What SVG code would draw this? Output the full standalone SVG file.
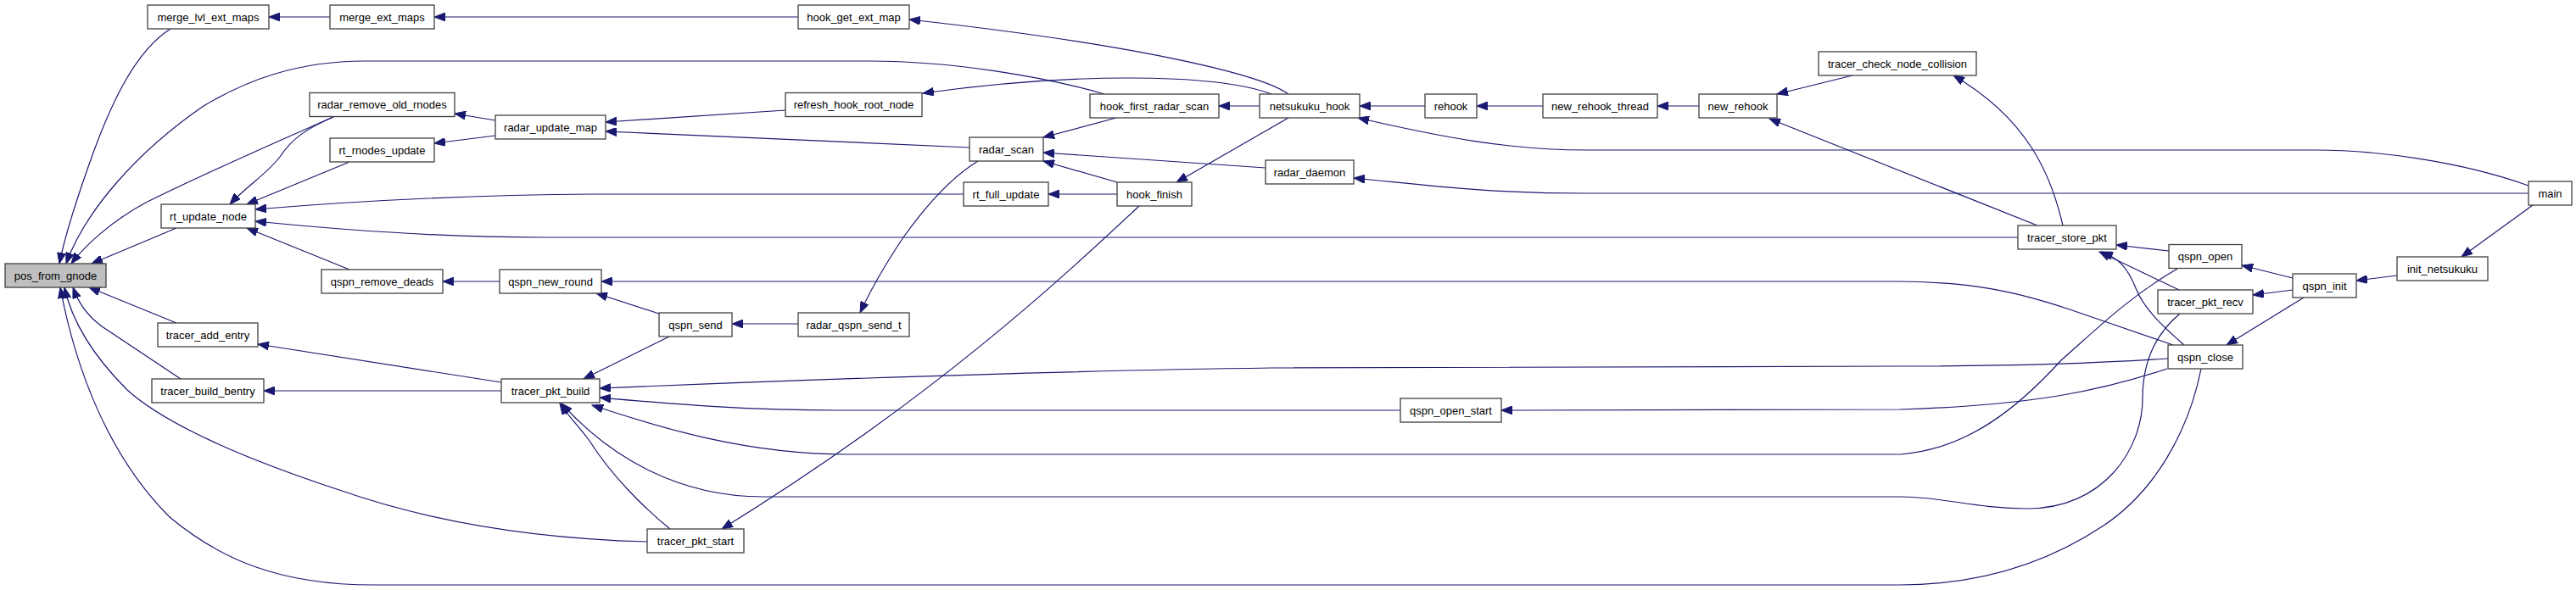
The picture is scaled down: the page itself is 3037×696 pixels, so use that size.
<svg xmlns="http://www.w3.org/2000/svg" width="3037" height="696" viewBox="0 0 3037 696">
<style>
.n rect{fill:#ffffff;stroke:#404040;stroke-width:1.3}
.n text{font-family:"Liberation Sans",Arial,Helvetica,sans-serif;font-size:13px;fill:#000;text-anchor:middle}
#n_pos_from_gnode rect{fill:#bfbfbf}
#edges path{fill:none;stroke:#191970;stroke-width:1.2;marker-end:url(#ah)}
</style>
<defs>
<marker id="ah" markerUnits="userSpaceOnUse" viewBox="0 0 14 10" markerWidth="14" markerHeight="10" refX="13" refY="5" orient="auto">
<path d="M0,0 L13,5 L0,10 z" fill="#191970" stroke="#191970" stroke-width="1"/>
</marker>
</defs>
<rect width="3037" height="696" fill="#ffffff"/>
<g id="edges">
<path d="M389,20 L317,20"/>
<path d="M941,20 L512,20"/>
<path d="M201,34 C160,60 132,120 110,180 C92,230 76,280 70,311"/>
<path d="M1302,111 C1230,90 1120,72 1026,72 L430,72 C350,72 290,95 240,125 C160,180 100,250 78,311"/>
<path d="M393,138 C320,170 230,210 170,240 C130,262 100,290 84,311"/>
<path d="M393,138 C365,150 345,162 330,185 C315,205 290,220 271,241"/>
<path d="M412,191 L291,241"/>
<path d="M208,269 L108,311"/>
<path d="M1136,229 L700,229 C560,230 420,237 301,247"/>
<path d="M2379,280 L640,280 C520,280 410,272 301,261"/>
<path d="M412,318 L291,269"/>
<path d="M589,332 L522,332"/>
<path d="M584,142 L536,134"/>
<path d="M584,160 L512,169"/>
<path d="M926,130 L714,144"/>
<path d="M1143,174 L714,155"/>
<path d="M1519,111 C1490,90 1360,55 1072,23"/>
<path d="M1499,111 C1470,100 1420,92 1330,92 C1250,92 1160,100 1088,110"/>
<path d="M1485,125 L1437,125"/>
<path d="M1316,139 L1230,162"/>
<path d="M1519,139 L1387,215"/>
<path d="M1317,215 L1230,190"/>
<path d="M1317,229 L1236,229"/>
<path d="M1492,198 L1230,180"/>
<path d="M1680,125 L1603,125"/>
<path d="M1819,125 L1741,125"/>
<path d="M2003,125 L1954,125"/>
<path d="M2184,89 L2095,111"/>
<path d="M2402,266 L2086,140"/>
<path d="M2432,266 C2418,205 2390,140 2303,89"/>
<path d="M2981,219 C2900,190 2800,177 2730,177 L1870,177 C1780,177 1700,162 1601,139"/>
<path d="M2981,228 L1870,228 C1750,228 1680,218 1596,210"/>
<path d="M2986,242 L2902,303"/>
<path d="M2826,325 L2778,331"/>
<path d="M2703,328 L2643,313"/>
<path d="M2703,342 L2656,348"/>
<path d="M2716,351 L2625,407"/>
<path d="M2557,296 L2495,289"/>
<path d="M2569,342 L2475,297"/>
<path d="M2575,407 C2550,385 2528,365 2518,340 C2508,315 2498,305 2478,297"/>
<path d="M2562,407 L2440,365 C2380,345 2330,333 2240,332 L709,332"/>
<path d="M777,370 L703,346"/>
<path d="M941,382 L863,382"/>
<path d="M1153,190 C1120,210 1090,245 1065,280 C1045,310 1025,345 1014,369"/>
<path d="M789,397 L688,447"/>
<path d="M591,451 L304,406"/>
<path d="M591,461 L311,461"/>
<path d="M208,381 L105,339"/>
<path d="M213,447 C180,425 150,405 120,385 C100,370 92,355 86,339"/>
<path d="M763,639 C650,636 520,620 400,578 C300,545 200,505 150,460 C110,420 85,380 76,339"/>
<path d="M2595,435 C2580,510 2540,580 2480,620 C2420,660 2340,690 2240,690 L440,690 C330,690 260,660 200,610 C130,540 90,440 71,339"/>
<path d="M2556,423 C2450,430 2350,432 2240,432 L1500,434 C1200,438 900,450 707,458"/>
<path d="M2555,435 C2480,460 2400,478 2240,483 L1770,484"/>
<path d="M1651,484 L990,484 C880,484 800,477 707,469"/>
<path d="M2567,317 C2510,350 2470,390 2430,425 C2380,480 2320,530 2240,536 L1000,536 C880,536 780,505 698,478"/>
<path d="M2570,370 C2540,395 2526,430 2526,470 C2526,530 2480,600 2390,600 C2330,600 2290,586 2240,586 L900,586 C800,586 720,540 662,476"/>
<path d="M790,624 C760,600 720,560 695,520 C680,500 668,488 660,476"/>
<path d="M1343,243 C1250,330 1100,470 851,624"/>
</g>
<g id="n_pos_from_gnode" class="n"><rect x="6" y="311" width="119" height="28"/><text x="65.5" y="329.5">pos_from_gnode</text></g>
<g id="n_merge_lvl_ext_maps" class="n"><rect x="174" y="6" width="143" height="28"/><text x="245.5" y="24.5">merge_lvl_ext_maps</text></g>
<g id="n_merge_ext_maps" class="n"><rect x="389" y="6" width="123" height="28"/><text x="450.5" y="24.5">merge_ext_maps</text></g>
<g id="n_hook_get_ext_map" class="n"><rect x="941" y="6" width="131" height="28"/><text x="1006.5" y="24.5">hook_get_ext_map</text></g>
<g id="n_radar_remove_old_rnodes" class="n"><rect x="365" y="109.5" width="171" height="28"/><text x="450.5" y="128">radar_remove_old_rnodes</text></g>
<g id="n_radar_update_map" class="n"><rect x="584" y="136" width="130" height="28"/><text x="649" y="154.5">radar_update_map</text></g>
<g id="n_rt_rnodes_update" class="n"><rect x="389" y="163" width="123" height="28"/><text x="450.5" y="181.5">rt_rnodes_update</text></g>
<g id="n_rt_update_node" class="n"><rect x="190" y="241" width="111" height="28"/><text x="245.5" y="259.5">rt_update_node</text></g>
<g id="n_qspn_remove_deads" class="n"><rect x="379" y="318" width="143" height="28"/><text x="450.5" y="336.5">qspn_remove_deads</text></g>
<g id="n_qspn_new_round" class="n"><rect x="589" y="318" width="120" height="28"/><text x="649" y="336.5">qspn_new_round</text></g>
<g id="n_tracer_add_entry" class="n"><rect x="186" y="381" width="118" height="28"/><text x="245" y="399.5">tracer_add_entry</text></g>
<g id="n_tracer_build_bentry" class="n"><rect x="179" y="447" width="132" height="28"/><text x="245" y="465.5">tracer_build_bentry</text></g>
<g id="n_tracer_pkt_build" class="n"><rect x="591" y="447" width="116" height="28"/><text x="649" y="465.5">tracer_pkt_build</text></g>
<g id="n_refresh_hook_root_node" class="n"><rect x="926" y="109.5" width="161" height="28"/><text x="1006.5" y="128">refresh_hook_root_node</text></g>
<g id="n_hook_first_radar_scan" class="n"><rect x="1285" y="111" width="152" height="28"/><text x="1361" y="129.5">hook_first_radar_scan</text></g>
<g id="n_radar_scan" class="n"><rect x="1143" y="162" width="87" height="28"/><text x="1186.5" y="180.5">radar_scan</text></g>
<g id="n_rt_full_update" class="n"><rect x="1136" y="215" width="100" height="28"/><text x="1186" y="233.5">rt_full_update</text></g>
<g id="n_hook_finish" class="n"><rect x="1317" y="215" width="88" height="28"/><text x="1361" y="233.5">hook_finish</text></g>
<g id="n_qspn_send" class="n"><rect x="777" y="369" width="86" height="28"/><text x="820" y="387.5">qspn_send</text></g>
<g id="n_radar_qspn_send_t" class="n"><rect x="941" y="369" width="131" height="28"/><text x="1006.5" y="387.5">radar_qspn_send_t</text></g>
<g id="n_tracer_pkt_start" class="n"><rect x="763" y="624" width="114" height="28"/><text x="820" y="642.5">tracer_pkt_start</text></g>
<g id="n_netsukuku_hook" class="n"><rect x="1485" y="111" width="118" height="28"/><text x="1544" y="129.5">netsukuku_hook</text></g>
<g id="n_rehook" class="n"><rect x="1680" y="111" width="61" height="28"/><text x="1710.5" y="129.5">rehook</text></g>
<g id="n_new_rehook_thread" class="n"><rect x="1819" y="111" width="135" height="28"/><text x="1886.5" y="129.5">new_rehook_thread</text></g>
<g id="n_new_rehook" class="n"><rect x="2003" y="111" width="92" height="28"/><text x="2049" y="129.5">new_rehook</text></g>
<g id="n_tracer_check_node_collision" class="n"><rect x="2144" y="61" width="186" height="28"/><text x="2237" y="79.5">tracer_check_node_collision</text></g>
<g id="n_radar_daemon" class="n"><rect x="1492" y="189" width="104" height="28"/><text x="1544" y="207.5">radar_daemon</text></g>
<g id="n_qspn_open_start" class="n"><rect x="1651" y="470" width="119" height="28"/><text x="1710.5" y="488.5">qspn_open_start</text></g>
<g id="n_tracer_store_pkt" class="n"><rect x="2379" y="266" width="116" height="28"/><text x="2437" y="284.5">tracer_store_pkt</text></g>
<g id="n_qspn_open" class="n"><rect x="2557" y="288.5" width="86" height="28"/><text x="2600" y="307">qspn_open</text></g>
<g id="n_tracer_pkt_recv" class="n"><rect x="2544" y="342" width="112" height="28"/><text x="2600" y="360.5">tracer_pkt_recv</text></g>
<g id="n_qspn_close" class="n"><rect x="2556" y="407" width="88" height="28"/><text x="2600" y="425.5">qspn_close</text></g>
<g id="n_qspn_init" class="n"><rect x="2703" y="323" width="75" height="28"/><text x="2740.5" y="341.5">qspn_init</text></g>
<g id="n_init_netsukuku" class="n"><rect x="2826" y="303" width="107" height="28"/><text x="2879.5" y="321.5">init_netsukuku</text></g>
<g id="n_main" class="n"><rect x="2981" y="214" width="51" height="28"/><text x="3006.5" y="232.5">main</text></g>
</svg>
